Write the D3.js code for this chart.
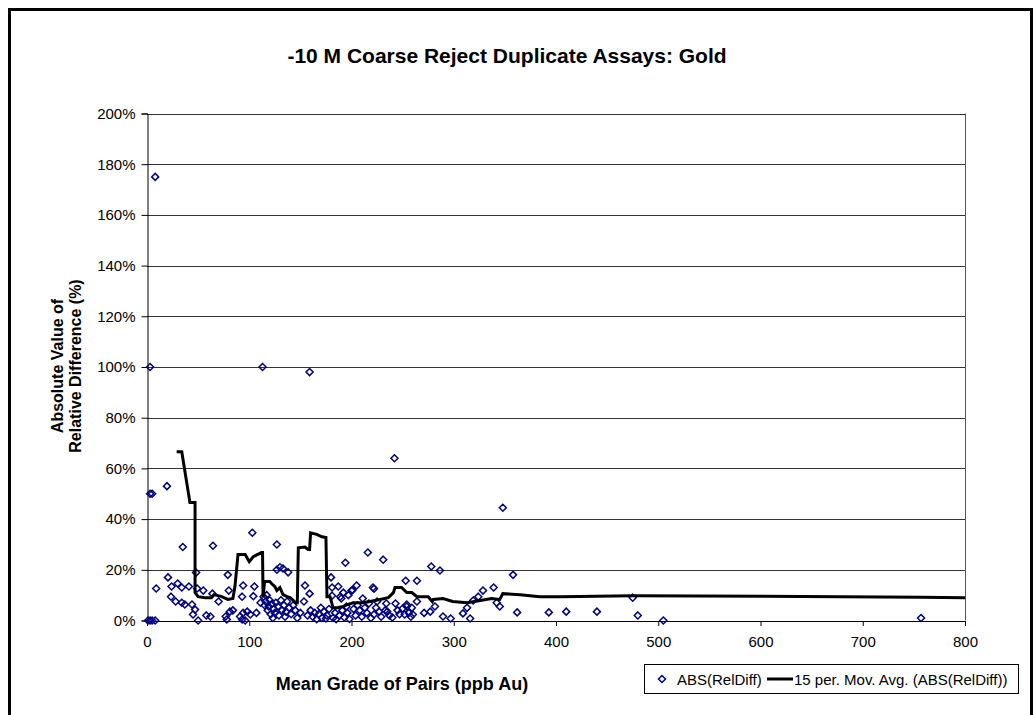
<!DOCTYPE html>
<html>
<head>
<meta charset="utf-8">
<script src="https://cdn.jsdelivr.net/npm/d3@7"></script>
<style>
  body { margin: 0; background: #fff; }
  text { font-family: Arial, "Liberation Sans", sans-serif; }
</style>
</head>
<body>
<svg id="chart" width="1034" height="715"></svg>
<script>
// Mean grade (ppb Au) vs ABS(RelDiff) in %
const assays = [
  [1,0],[3,0],[5,0],[8,0],[3,50],[5,50],[3,100],[8,175],
  [9,12.6],[19.5,53],[20.5,17],[23.5,9.4],[24,13.4],[28,7.5],[30,14.6],[34,13],[34,7],[35,29],
  [37,6.3],[41,13.4],[44,6.3],[45,2.4],[47,4.3],[48,18.9],[49,12.6],[50,0],[55,11.8],[58,2],
  [62,1.6],[64,10.6],[64.5,29.5],[70,7.5],[77,1.6],[78,0.4],[79,18],[80,11.8],[81,3.5],[84,4],
  [91,1.6],[93,9.4],[93,0.4],[94,13.8],[94,3],[96,0],[98,3.5],[101,2.4],[103,34.6],[104,9.6],
  [105,13.4],[107,3],
  [111,7],[113,100],[114,9.4],[115,6],[116,7.5],[117,10],[118,4],[119,5.5],[120,8],[121,2.5],
  [122,6.5],[123,1],[124,4.5],[125,3],[126,7],[127,30],[127,20],[128,5.5],[129,2],[130,21],
  [131,8],[132,4],[133,20.5],[134,6],[135,1.5],[136,3.5],[137,7.5],[138,19],[139,5],[141,2.5],
  [143,6],[145,4],[147,1],[150,3],
  [153.5,7.5],[154.5,13.8],[157,2],[159,10.6],[159,98],[160,4],[162,1.5],[164,3],[166,0.5],
  [168,2.5],[170,5],[171,1],[173,3.5],[175,0.8],[176,2],[178,4.5],[180,17],[181,9.8],[181,13],
  [182,1],[184,3],[185,0.5],
  [187,13.4],[188,2],[189,9.4],[190,8.7],[191,4],[192,11],[193,1.2],[194,22.8],[195,5.5],
  [196,3],[197,10],[198,0.6],[200,11.8],[201,12],[202,4.5],[204,2],[205,13.8],[206,6],[208,4],
  [210,1.5],[211,8.7],[213,5],[215,3],[216,26.8],[217,6.7],[219,1],[221,13],[222,12.5],
  [222,2.4],[224,5],[225,7.5],[227,3.5],[229,1.5],[231,24],[233,4],[234,6.7],[235,3.5],
  [237,2],[240,1.2],[242,64],[243,6.7],[245,4],[247,2.5],[250,4.7],[252,2.4],[253,15.7],
  [254,6.3],[254,5.5],[256,3],[258,1.5],[259,5],[260,2.4],[264,15.7],[264,7.5],
  [271,3],[277,3.5],[278,21.3],[281.6,5.5],[286.5,19.7],[289.5,1.6],[297,0.8],[309,2.8],
  [313,5],[316,0.8],[319,7.9],[324,9.4],[328.6,11.8],[339,13],[342,7],[345,5.5],[348,44.5],
  [358,18],[362,3.2],[393,3.2],[410,3.5],[440,3.5],[475,9],[480,2],[505,0],[757,1]
];

// 15 per. moving average
const movAvg = [
  [29,66.6],[34,66.6],[42,46.5],[47,46.5],[47,11],[50,9.4],[57,9],[63,9],[65.5,10.2],
  [73,9.4],[79,8.3],[84,8.7],[86,13.4],[89,26],[96,26],[100,23.2],[104,25.2],[112,26.8],
  [113,26.8],[113.5,9],[115,15.4],[120,15.4],[122,14.5],[125,13.4],[127,11.8],[130,13],
  [133,10.2],[137,9.4],[140,9],[143,8],[145,7],[147,7],[148,28.7],[154.5,29],[157.5,28],
  [159,28],[160,34.6],[166,34],[171,33],[175,32.7],[176,9.4],[179,9.4],[182,5],[186,5],
  [192,5.5],[196,6.3],[201.5,7],[211,7],[218,7.5],[228,8.3],[236,9],[241,11],[242.5,13],
  [249,13],[254,11],[259,11],[264,9.4],[275,9.4],[279,7.5],[280,8.3],[289.5,8.7],[299,7.5],
  [313,7],[326,7.9],[337,8.7],[345,8.3],[348,10.6],[365,10.2],[384,9.4],[404,9.4],
  [475,9.8],[757,9.2],[800,9]
];

const xTicks = [0,100,200,300,400,500,600,700,800];
const yTicks = [0,20,40,60,80,100,120,140,160,180,200];

const svg = d3.select("#chart");

// outer chart frame
svg.append("rect")
    .attr("x", 9.5).attr("y", 9.5)
    .attr("width", 1022).attr("height", 730)
    .attr("fill", "none").attr("stroke", "#000").attr("stroke-width", 3);

const x = d3.scaleLinear().domain([0, 800]).range([147, 965]);
const y = d3.scaleLinear().domain([0, 200]).range([620.5, 113.5]);

// gridlines
svg.append("g")
    .selectAll("line")
    .data(yTicks.slice(1))
    .enter().append("line")
    .attr("x1", 147).attr("x2", 965)
    .attr("y1", d => Math.round(y(d)) + 0.5)
    .attr("y2", d => Math.round(y(d)) + 0.5)
    .attr("stroke", "#333")
    .attr("stroke-width", 1);

// right border of plot area
svg.append("line")
    .attr("x1", 965.5).attr("x2", 965.5)
    .attr("y1", y(200)).attr("y2", y(0))
    .attr("stroke", "#555");

// axes
const yAxis = svg.append("g")
    .attr("transform", "translate(147.5,0)")
    .call(d3.axisLeft(y).tickValues(yTicks).tickSize(6).tickPadding(6)
        .tickFormat(d => d + "%"));

const xAxis = svg.append("g")
    .attr("transform", "translate(0,621)")
    .call(d3.axisBottom(x).tickValues(xTicks).tickSize(5).tickPadding(10)
        .tickFormat(d3.format("d")));

[yAxis, xAxis].forEach(a => {
    a.select(".domain").attr("stroke", "#000");
    a.selectAll(".tick line").attr("stroke", "#000");
    a.selectAll("text").attr("font-size", 15).attr("fill", "#000")
        .style("font-family", "Arial, 'Liberation Sans', sans-serif");
});

// moving average line
const line = d3.line()
    .x(d => x(d[0]))
    .y(d => y(d[1]));

// scatter diamonds
const diamond = "M0,-3.5L3.5,0L0,3.5L-3.5,0Z";
svg.append("g")
    .selectAll("path")
    .data(assays)
    .enter().append("path")
    .attr("d", diamond)
    .attr("transform", d => "translate(" + x(d[0]) + "," + y(d[1]) + ")")
    .attr("fill", "none")
    .attr("stroke", "#000080")
    .attr("stroke-width", 1.5);

svg.append("path")
    .datum(movAvg)
    .attr("d", line)
    .attr("fill", "none")
    .attr("stroke", "#000")
    .attr("stroke-width", 3)
    .attr("stroke-linejoin", "miter");

// title
svg.append("text")
    .attr("x", 507).attr("y", 63)
    .attr("text-anchor", "middle")
    .attr("font-size", 21).attr("font-weight", "bold")
    .text("-10 M Coarse Reject Duplicate Assays: Gold");

// y axis title
const yt = svg.append("text")
    .attr("transform", "translate(0,366) rotate(-90)")
    .attr("text-anchor", "middle")
    .attr("font-size", 16).attr("font-weight", "bold");
yt.append("tspan").attr("x", 0).attr("y", 63).text("Absolute Value of");
yt.append("tspan").attr("x", 0).attr("y", 81).text("Relative Difference (%)");

// x axis title
svg.append("text")
    .attr("x", 402).attr("y", 690)
    .attr("text-anchor", "middle")
    .attr("font-size", 18).attr("font-weight", "bold")
    .text("Mean Grade of Pairs (ppb Au)");

// legend
const lg = svg.append("g");
lg.append("rect")
    .attr("x", 644.5).attr("y", 664.5)
    .attr("width", 374).attr("height", 29)
    .attr("fill", "#fff").attr("stroke", "#000");
lg.append("path")
    .attr("d", diamond)
    .attr("transform", "translate(662,679)")
    .attr("fill", "none").attr("stroke", "#000080").attr("stroke-width", 1.5);
lg.append("text")
    .attr("x", 677).attr("y", 684.5)
    .attr("font-size", 15)
    .text("ABS(RelDiff)");
lg.append("line")
    .attr("x1", 767).attr("x2", 793)
    .attr("y1", 679).attr("y2", 679)
    .attr("stroke", "#000").attr("stroke-width", 3);
lg.append("text")
    .attr("x", 794).attr("y", 684.5)
    .attr("font-size", 15)
    .text("15 per. Mov. Avg. (ABS(RelDiff))");
</script>
</body>
</html>
